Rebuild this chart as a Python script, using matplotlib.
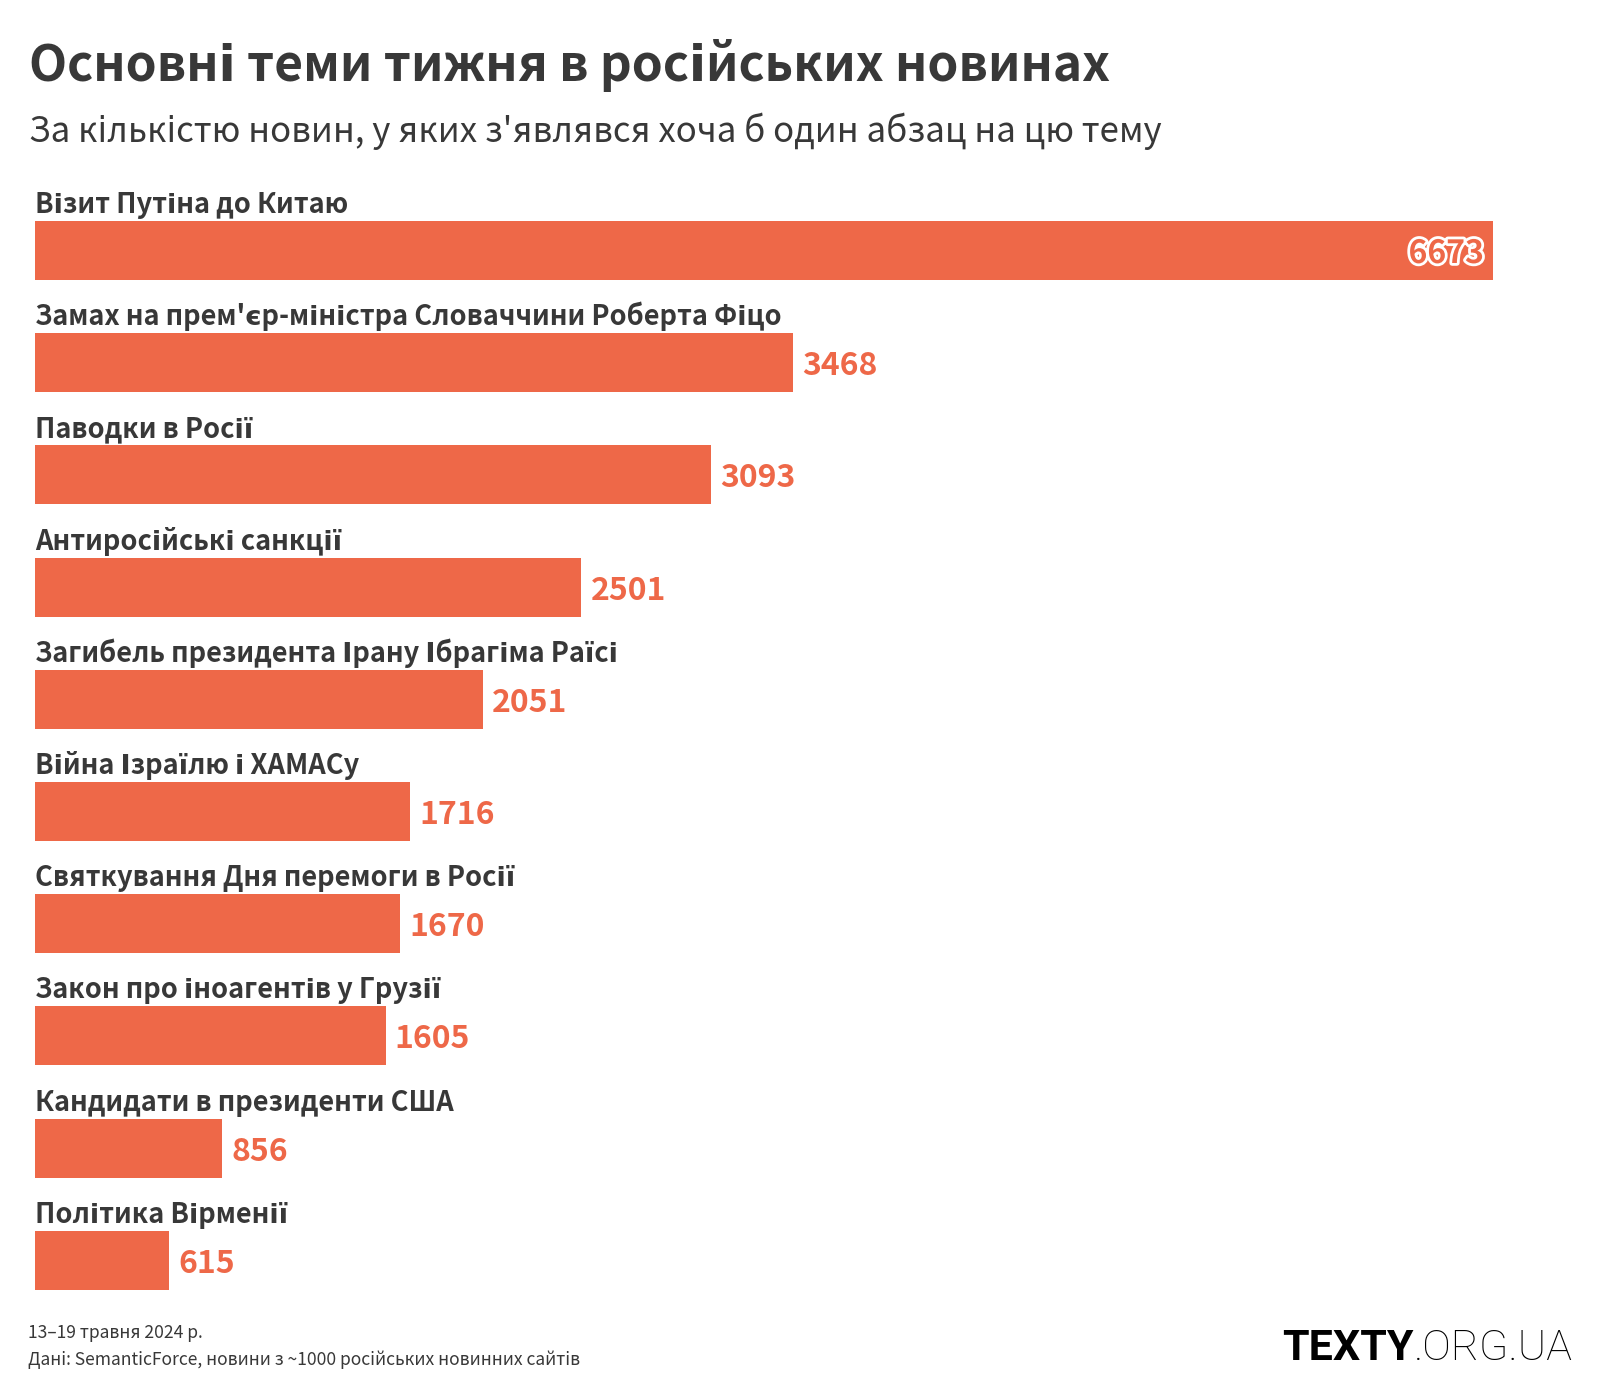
import matplotlib
matplotlib.use("Agg")
import matplotlib.pyplot as plt
import matplotlib.patheffects as pe

plt.rcParams['font.family'] = ['Noto Sans CJK SC', 'DejaVu Sans']

topics = [
    "Візит Путіна до Китаю",
    "Замах на прем'єр-міністра Словаччини Роберта Фіцо",
    "Паводки в Росії",
    "Антиросійські санкції",
    "Загибель президента Ірану Ібрагіма Раїсі",
    "Війна Ізраїлю і ХАМАСу",
    "Святкування Дня перемоги в Росії",
    "Закон про іноагентів у Грузії",
    "Кандидати в президенти США",
    "Політика Вірменії",
]
counts = [6673, 3468, 3093, 2501, 2051, 1716, 1670, 1605, 856, 615]

title = "Основні теми тижня в російських новинах"
subtitle = "За кількістю новин, у яких з'являвся хоча б один абзац на цю тему"
period = "13–19 травня 2024 р."
source = "Дані: SemanticForce, новини з ~1000 російських новинних сайтів"

BAR_COLOR = "#EE6848"
TEXT_COLOR = "#383838"
W, H = 1600, 1400

fig = plt.figure(figsize=(W / 100, H / 100), dpi=100)
fig.patch.set_facecolor("white")


def fx(x):
    return x / W


def fy(y):
    return 1 - y / H


# axes placed so bars land where they sit in the original
unit = 112.2
top_px = 250.5 - 0.5 * unit
bot_px = top_px + 10 * unit
ax = fig.add_axes([fx(35), fy(bot_px), fx(1493) - fx(35), (bot_px - top_px) / H])
ax.set_xlim(0, max(counts))
ax.set_ylim(9.5, -0.5)
ax.axis("off")

ypos = list(range(len(topics)))
bar_h = 59 / unit
ax.barh(ypos, counts, height=bar_h, color=BAR_COLOR)

pad = 9 / 1458 * max(counts)
for i, (name, val) in enumerate(zip(topics, counts)):
    ax.text(0, i - bar_h / 2 - 8 / unit, name, ha="left", va="baseline",
            fontsize=19.6, fontweight="bold", color=TEXT_COLOR)
    if i == 0:
        t = ax.text(val - pad, i, str(val), ha="right", va="center_baseline",
                    fontsize=23, fontweight="bold", color=BAR_COLOR)
        t.set_path_effects([pe.Stroke(linewidth=4, foreground="white"), pe.Normal()])
    else:
        ax.text(val + pad, i, str(val), ha="left", va="center_baseline",
                fontsize=23, fontweight="bold", color=BAR_COLOR)

fig.text(fx(29), fy(81), title, fontsize=35.8, fontweight="bold", color=TEXT_COLOR,
         ha="left", va="baseline")
fig.text(fx(29), fy(142), subtitle, fontsize=25.1, color=TEXT_COLOR,
         ha="left", va="baseline")
fig.text(fx(28), fy(1338), period, fontsize=12.6, color=TEXT_COLOR, ha="left", va="baseline")
fig.text(fx(28), fy(1365), source, fontsize=12.6, color=TEXT_COLOR, ha="left", va="baseline")

# logo
logo1 = fig.text(fx(1282), fy(1360), "TEXTY", fontsize=31, fontweight="bold",
                 family=["Roboto", "DejaVu Sans"], color="black", ha="left", va="baseline")
fig.canvas.draw()
bb = logo1.get_window_extent()
fig.text(bb.x1 / W, fy(1360), ".ORG.UA", fontsize=31, fontweight="light",
         family=["Roboto", "DejaVu Sans"], color="black", ha="left", va="baseline")

fig.savefig("out.png", dpi=100, facecolor="white")
